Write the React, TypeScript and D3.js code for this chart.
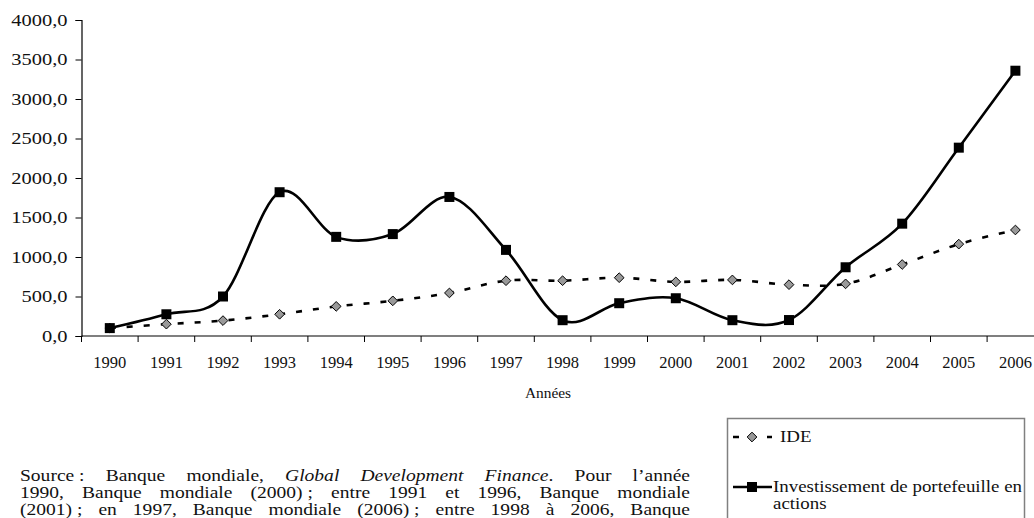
import React, { useRef, useEffect } from 'react';
import * as d3 from 'd3';

const years = ['1990', '1991', '1992', '1993', '1994', '1995', '1996', '1997', '1998',
  '1999', '2000', '2001', '2002', '2003', '2004', '2005', '2006'];
const ide = [100, 150, 195, 275, 375, 445, 545, 700, 700, 738, 685, 710, 650, 660, 905, 1163, 1342];
const portefeuille = [100, 275, 500, 1820, 1255, 1290, 1760, 1090, 200, 415, 478, 200, 202, 870, 1422, 2384, 3358];
const yTicks = [0, 500, 1000, 1500, 2000, 2500, 3000, 3500, 4000];
const xTitle = 'Années';
const legendLabels = ['IDE', 'Investissement de portefeuille en', 'actions'];

// source note, one array per justified line; italic parts marked with i
const sourceLines = [
  [[{ t: 'Source :' }], [{ t: 'Banque' }], [{ t: 'mondiale,' }], [{ t: 'Global', i: true }],
    [{ t: 'Development', i: true }], [{ t: 'Finance', i: true }, { t: '.' }], [{ t: 'Pour' }], [{ t: 'l’année' }]],
  [[{ t: '1990,' }], [{ t: 'Banque' }], [{ t: 'mondiale' }], [{ t: '(2000) ;' }], [{ t: 'entre' }],
    [{ t: '1991' }], [{ t: 'et' }], [{ t: '1996,' }], [{ t: 'Banque' }], [{ t: 'mondiale' }]],
  [[{ t: '(2001) ;' }], [{ t: 'en' }], [{ t: '1997,' }], [{ t: 'Banque' }], [{ t: 'mondiale' }],
    [{ t: '(2006) ;' }], [{ t: 'entre' }], [{ t: '1998' }], [{ t: 'à' }], [{ t: '2006,' }], [{ t: 'Banque' }]],
];

const width = 1034;
const height = 518;
const font = "'Liberation Serif', 'DejaVu Serif', serif";

// widen a text horizontally (the original picture is stretched sideways)
const stretch = (el: SVGTextElement, k: number) => {
  const w = el.getComputedTextLength();
  el.setAttribute('textLength', String(w * k));
  el.setAttribute('lengthAdjust', 'spacingAndGlyphs');
  return w * k;
};

const App = () => {
  const svgRef = useRef<SVGSVGElement>(null);

  useEffect(() => {
    const svg = d3.select(svgRef.current);
    svg.selectAll('*').remove();
    svg.style('font-family', font);

    const left = 81.5;
    const band = 56.6;
    const x = d3.scaleBand().domain(years).range([left, left + band * years.length]);
    const y = d3.scaleLinear().domain([0, 4000]).range([336, 20]);
    const cx = (d: string) => (x(d) as number) + x.bandwidth() / 2;

    // y axis
    const yAxis = svg.append('g')
      .attr('transform', `translate(${left},0)`)
      .call(d3.axisLeft(y).tickValues(yTicks).tickSize(6).tickPadding(8)
        .tickFormat(d => d3.format('.1f')(d as number).replace('.', ',')));
    yAxis.attr('font-family', null).attr('font-size', null);
    yAxis.select('.domain').attr('stroke', '#000').attr('stroke-width', 1.2);
    yAxis.selectAll('.tick line').attr('stroke', '#000');
    yAxis.selectAll('.tick text')
      .style('font-size', '16.5px')
      .attr('fill', '#111')
      .each(function () { stretch(this as SVGTextElement, 1.24); });

    // x axis line + ticks at category boundaries
    const xg = svg.append('g');
    xg.append('line')
      .attr('x1', left).attr('x2', width)
      .attr('y1', y(0)).attr('y2', y(0))
      .attr('stroke', '#000').attr('stroke-width', 1.2);
    xg.selectAll('line.tk')
      .data(years)
      .join('line')
      .attr('class', 'tk')
      .attr('x1', d => x(d) as number).attr('x2', d => x(d) as number)
      .attr('y1', y(0)).attr('y2', y(0) + 6)
      .attr('stroke', '#000');
    xg.selectAll('text')
      .data(years)
      .join('text')
      .attr('x', cx)
      .attr('y', 368)
      .attr('text-anchor', 'middle')
      .style('font-size', '16.5px')
      .attr('fill', '#111')
      .text(d => d);

    svg.append('text')
      .attr('x', 548)
      .attr('y', 398)
      .attr('text-anchor', 'middle')
      .style('font-size', '14px')
      .attr('fill', '#111')
      .text(xTitle)
      .each(function () { stretch(this as SVGTextElement, 1.1); });

    // smoothed lines
    const line = d3.line<number>()
      .x((_, i) => cx(years[i]))
      .y(d => y(d))
      .curve(d3.curveCardinal.tension(0));

    svg.append('path')
      .datum(ide)
      .attr('fill', 'none')
      .attr('stroke', '#000')
      .attr('stroke-width', 2.6)
      .attr('stroke-dasharray', '6 11')
      .attr('d', line);

    svg.append('path')
      .datum(portefeuille)
      .attr('fill', 'none')
      .attr('stroke', '#000')
      .attr('stroke-width', 2.6)
      .attr('d', line);

    const diamond = d3.symbol().type(d3.symbolDiamond2).size(60);
    svg.selectAll('path.ide')
      .data(ide)
      .join('path')
      .attr('class', 'ide')
      .attr('transform', (d, i) => `translate(${cx(years[i])},${y(d)})`)
      .attr('d', diamond)
      .attr('fill', '#999')
      .attr('stroke', '#000')
      .attr('stroke-width', 1);

    svg.selectAll('rect.pf')
      .data(portefeuille)
      .join('rect')
      .attr('class', 'pf')
      .attr('x', (d, i) => cx(years[i]) - 5)
      .attr('y', d => y(d) - 5)
      .attr('width', 10)
      .attr('height', 10)
      .attr('fill', '#000');

    // legend
    const lg = svg.append('g');
    lg.append('rect')
      .attr('x', 727.5).attr('y', 418.5)
      .attr('width', 297).attr('height', 120)
      .attr('fill', '#fff')
      .attr('stroke', '#808080')
      .attr('stroke-width', 1.5);
    lg.append('line')
      .attr('x1', 733).attr('x2', 772).attr('y1', 437).attr('y2', 437)
      .attr('stroke', '#000').attr('stroke-width', 2.6)
      .attr('stroke-dasharray', '6 11');
    lg.append('path')
      .attr('transform', 'translate(752,437)')
      .attr('d', diamond)
      .attr('fill', '#999').attr('stroke', '#000');
    lg.append('line')
      .attr('x1', 733).attr('x2', 772).attr('y1', 487).attr('y2', 487)
      .attr('stroke', '#000').attr('stroke-width', 2.6);
    lg.append('rect')
      .attr('x', 747).attr('y', 482).attr('width', 10).attr('height', 10)
      .attr('fill', '#000');
    lg.selectAll('text')
      .data(legendLabels)
      .join('text')
      .attr('x', (d, i) => (i === 0 ? 780 : 773))
      .attr('y', (d, i) => [442, 492, 509][i])
      .style('font-size', '16px')
      .attr('fill', '#111')
      .text(d => d)
      .each(function () { stretch(this as SVGTextElement, 1.18); });

    // justified source note
    const noteLeft = 20;
    const noteRight = 690;
    sourceLines.forEach((words, li) => {
      const g = svg.append('g');
      const nodes = words.map(parts => {
        const t = g.append('text')
          .attr('y', 481 + li * 17)
          .style('font-size', '16px')
          .attr('fill', '#111');
        parts.forEach(p => {
          t.append('tspan')
            .style('font-style', p.i ? 'italic' : 'normal')
            .text(p.t);
        });
        return t;
      });
      const widths = nodes.map(n => stretch(n.node() as SVGTextElement, 1.22));
      const total = d3.sum(widths);
      const gap = (noteRight - noteLeft - total) / (nodes.length - 1);
      let pos = noteLeft;
      nodes.forEach((n, i) => {
        n.attr('x', pos);
        pos += widths[i] + gap;
      });
    });
  }, []);

  return (
    <>
      <style>{`body { margin: 0; background: #fff; }`}</style>
      <svg ref={svgRef} width={width} height={height} style={{ display: 'block' }} />
    </>
  );
};

export default App;
